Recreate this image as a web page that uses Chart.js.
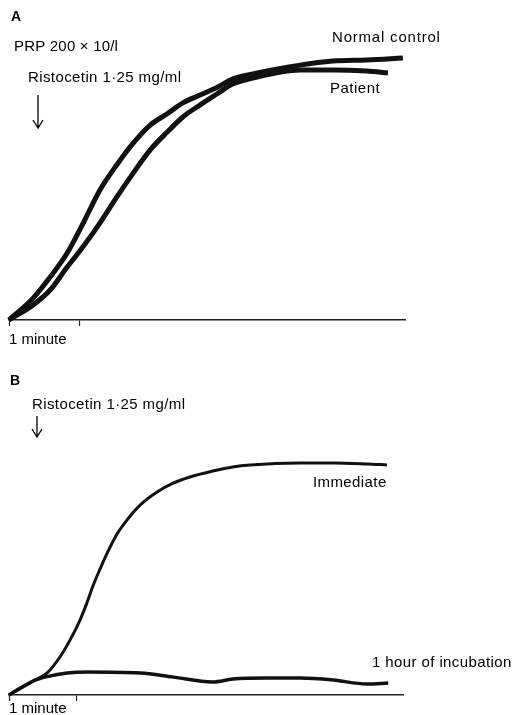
<!DOCTYPE html>
<html>
<head>
<meta charset="utf-8">
<script src="https://cdn.jsdelivr.net/npm/chart.js@4.4.1/dist/chart.umd.min.js"></script>
<style>
  html, body { margin: 0; padding: 0; background: #fff; overflow: hidden; }
  #wrapA { position: absolute; left: 0; top: 0; width: 517px; height: 357px; }
  #wrapB { position: absolute; left: 0; top: 357px; width: 517px; height: 370px; }
</style>
</head>
<body>
<div id="wrapA"><canvas id="chartA" width="517" height="357"></canvas></div>
<div id="wrapB"><canvas id="chartB" width="517" height="370"></canvas></div>
<script>
// Panel A : time (minutes) vs aggregation (% of full scale)
const timeNormal = [0, 0.34, 0.58, 0.82, 1.04, 1.28, 1.52, 1.75, 1.99, 2.23, 2.45, 2.69, 2.93, 3.15, 3.39, 4.10, 4.56, 5.04, 5.55];
const normalControl = [0, 8.1, 15.9, 24.8, 35.6, 48.1, 57.5, 65.5, 72.2, 76.4, 80.4, 83.3, 86.1, 89.2, 90.9, 94.4, 95.9, 96.3, 97.0];
const timePatient = [0, 0.34, 0.58, 0.82, 1.04, 1.28, 1.52, 1.75, 1.99, 2.23, 2.45, 2.69, 2.93, 3.15, 3.39, 4.10, 4.56, 5.04, 5.34];
const patient = [0, 5.6, 11.1, 19.6, 27.0, 35.9, 45.6, 54.4, 63.0, 69.6, 75.2, 79.6, 83.7, 87.4, 89.3, 92.6, 92.6, 92.2, 91.5];

// Panel B
const timeImmediate = [0, 0.36, 0.57, 0.76, 0.91, 1.06, 1.16, 1.25, 1.36, 1.46, 1.61, 1.76, 1.96, 2.21, 2.45, 2.70, 3.04, 3.34, 3.60, 4.34, 4.84, 5.34, 5.64];
const immediate = [0, 5.7, 9.0, 15.5, 22.4, 30.6, 37.4, 44.3, 51.5, 57.6, 65.6, 71.4, 77.6, 82.9, 86.5, 89.0, 91.4, 93.1, 93.9, 94.7, 94.7, 94.3, 93.9];
const timeIncubated = [0, 0.36, 0.57, 0.87, 1.16, 1.96, 2.45, 3.04, 3.34, 3.85, 4.34, 4.84, 5.34, 5.66];
const incubated = [0, 5.7, 7.5, 9.0, 9.4, 9.0, 7.3, 5.3, 6.5, 6.9, 6.9, 6.1, 4.5, 4.9];

const xTicks = [0, 1];
const xTitle = '1 minute';

const FONT = '"Liberation Sans", Arial, Helvetica, sans-serif';

function toPoints(xs, ys) {
    return xs.map((x, i) => ({ x: x, y: ys[i] }));
}

// draws the text notes and the downward arrow on each panel
function makeNotes(texts, arrow) {
    return {
        id: 'notes',
        afterDraw(chart) {
            const ctx = chart.ctx;
            ctx.save();
            ctx.fillStyle = '#000';
            ctx.textBaseline = 'middle';
            ctx.textAlign = 'left';
            texts.forEach(t => {
                ctx.font = (t.bold ? 'bold ' : '') + t.size + 'px ' + FONT;
                ctx.letterSpacing = (t.spacing || 0) + 'px';
                ctx.fillText(t.text, t.x, t.y);
            });
            ctx.strokeStyle = '#000';
            ctx.lineWidth = 1.3;
            ctx.beginPath();
            ctx.moveTo(arrow.x, arrow.y1);
            ctx.lineTo(arrow.x, arrow.y2);
            ctx.moveTo(arrow.x - 5, arrow.y2 - 8);
            ctx.lineTo(arrow.x, arrow.y2);
            ctx.lineTo(arrow.x + 5, arrow.y2 - 8);
            ctx.stroke();
            ctx.restore();
        }
    };
}

function makeChart(canvasId, datasets, xMax, rightEdge, padTop, axisHeight, titlePad, notes) {
    const ctx = document.getElementById(canvasId).getContext('2d');
    return new Chart(ctx, {
        type: 'line',
        data: { datasets: datasets },
        options: {
            responsive: false,
            animation: false,
            devicePixelRatio: 1,
            layout: { padding: { left: 9, right: 517 - rightEdge, top: padTop, bottom: 0 } },
            plugins: { legend: { display: false }, tooltip: { enabled: false } },
            elements: { point: { radius: 0 } },
            scales: {
                x: {
                    type: 'linear',
                    min: 0,
                    max: xMax,
                    afterBuildTicks: scale => { scale.ticks = xTicks.map(v => ({ value: v })); },
                    afterFit: scale => { scale.height = axisHeight; },
                    ticks: { display: false },
                    grid: { drawOnChartArea: false, drawTicks: true, tickLength: 6, tickWidth: 1.2, tickColor: '#222' },
                    border: { display: true, color: '#222', width: 1.5 },
                    title: {
                        display: true,
                        text: xTitle,
                        align: 'start',
                        color: '#000',
                        font: { family: FONT, size: 15, lineHeight: 1.2 },
                        padding: { top: 0, bottom: titlePad }
                    }
                },
                y: { display: false, min: 0, max: 100 }
            }
        },
        plugins: [notes]
    });
}

const lineStyle = {
    borderColor: '#111',
    fill: false,
    cubicInterpolationMode: 'monotone',
    clip: 10
};

const chartA = makeChart('chartA', [
    Object.assign({ label: 'Normal control', data: toPoints(timeNormal, normalControl), borderWidth: 5 }, lineStyle),
    Object.assign({ label: 'Patient', data: toPoints(timePatient, patient), borderWidth: 5 }, lineStyle)
], 5.58, 405, 50, 37, 8, makeNotes([
    { text: 'A', x: 11, y: 17, size: 14, bold: true },
    { text: 'PRP 200 \u00d7 10/l', x: 14, y: 47, size: 15, spacing: 0.2 },
    { text: 'Ristocetin 1\u00b725 mg/ml', x: 28, y: 78, size: 15, spacing: 0.4 },
    { text: 'Normal control', x: 332, y: 38, size: 15, spacing: 0.8 },
    { text: 'Patient', x: 330, y: 89, size: 15, spacing: 0.5 }
], { x: 38, y1: 95, y2: 128 }));

const chartB = makeChart('chartB', [
    Object.assign({ label: 'Immediate', data: toPoints(timeImmediate, immediate), borderWidth: 3 }, lineStyle),
    Object.assign({ label: '1 hour of incubation', data: toPoints(timeIncubated, incubated), borderWidth: 3.5 }, lineStyle)
], 5.88, 403, 93, 32, 9, makeNotes([
    { text: 'B', x: 10, y: 24, size: 14, bold: true },
    { text: 'Ristocetin 1\u00b725 mg/ml', x: 32, y: 48, size: 15, spacing: 0.4 },
    { text: 'Immediate', x: 313, y: 126, size: 15, spacing: 0.4 },
    { text: '1 hour of incubation', x: 372, y: 306, size: 15, spacing: 0.4 }
], { x: 37, y1: 59, y2: 80 }));
</script>
</body>
</html>
